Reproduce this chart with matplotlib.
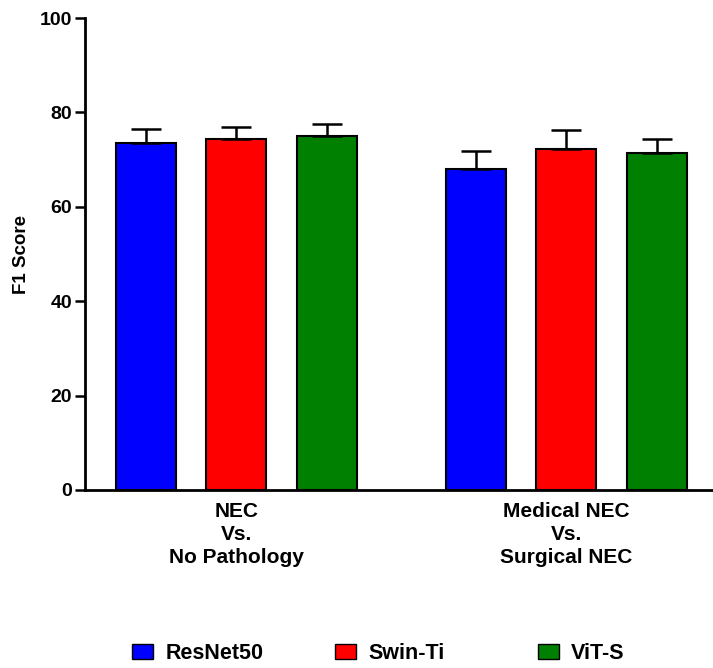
import numpy as np
import matplotlib.pyplot as plt
from matplotlib.patches import Patch

plt.rcParams['font.family'] = ['Liberation Sans', 'DejaVu Sans']

groups = ["NEC\nVs.\nNo Pathology", "Medical NEC\nVs.\nSurgical NEC"]
models = ["ResNet50", "Swin-Ti", "ViT-S"]
colors = ["#0000ff", "#ff0000", "#008000"]

# mean F1 and error (upper bar only) per model, one entry per group
means = {
    "ResNet50": [73.6, 68.1],
    "Swin-Ti":  [74.4, 72.2],
    "ViT-S":    [75.0, 71.4],
}
errs = {
    "ResNet50": [2.9, 3.7],
    "Swin-Ti":  [2.6, 4.1],
    "ViT-S":    [2.6, 3.0],
}

fig = plt.figure(figsize=(7.13, 6.68), dpi=100)
ax = fig.add_axes([0.119, 0.2665, 0.881, 0.7065])

group_pos = np.array([0.0, 3.65])
width = 0.663
for i, m in enumerate(models):
    x = group_pos + i
    ax.bar(x, means[m], width, color=colors[i], edgecolor="black", linewidth=1.5,
           zorder=2)
    ax.errorbar(x, means[m], yerr=[np.zeros(2), errs[m]], fmt="none",
                ecolor="black", elinewidth=1.8, capsize=11, capthick=1.8, zorder=3)

ax.set_xlim(-0.674, 6.27)
ax.set_ylim(0, 100)
ax.set_yticks([0, 20, 40, 60, 80, 100])
ax.set_xticks(group_pos + 1)
ax.set_xticklabels(groups, fontsize=15, fontweight="bold", linespacing=1.26)
ax.tick_params(axis="x", length=0, pad=9)
ax.tick_params(axis="y", direction="out", length=7, width=1.8, labelsize=14,
               pad=2)
for lbl in ax.get_yticklabels():
    lbl.set_fontweight("bold")
ax.set_ylabel("F1 Score", fontsize=13.5, fontweight="bold", labelpad=7)

for s in ["top", "right"]:
    ax.spines[s].set_visible(False)
for s in ["left", "bottom"]:
    ax.spines[s].set_linewidth(2)

# legend entries in equally spaced columns
for i, (m, c) in enumerate(zip(models, colors)):
    h = Patch(facecolor=c, edgecolor="black", linewidth=1)
    fig.legend([h], [m], loc="center left",
               bbox_to_anchor=(0.185 + i * 0.2847, 0.022), frameon=False,
               prop={"size": 15.5, "weight": "bold"}, borderpad=0,
               borderaxespad=0, handlelength=1.0, handleheight=0.7,
               handletextpad=0.55)

fig.savefig("out.png", dpi=100)
